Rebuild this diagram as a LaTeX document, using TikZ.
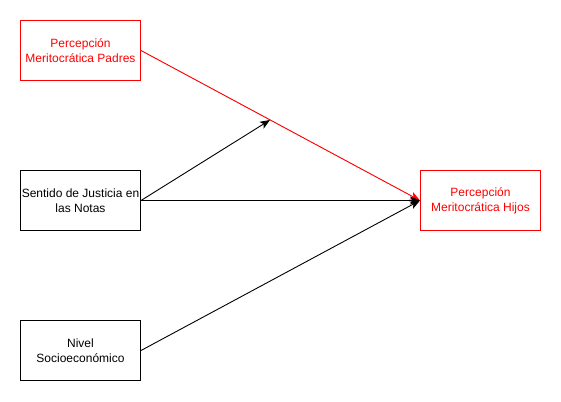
\documentclass[tikz,border=0pt]{standalone}
\usepackage{fontspec}
\setmainfont{Liberation Sans}
\usetikzlibrary{arrows.meta}
\definecolor{dred}{HTML}{FF0000}
\begin{document}
\begin{tikzpicture}[x=1pt,y=-1pt,
  box/.style={draw,line width=1pt,minimum width=120pt,minimum height=60pt,inner sep=0pt,align=center,font=\fontsize{12}{15}\selectfont,anchor=north west},
  redbox/.style={box,draw=dred,text=dred},
  arr/.style={line width=0.9pt,-{Stealth[length=10pt,width=8pt,inset=2.5pt]}}]
\useasboundingbox (0,0) rectangle (561,401);
\node[redbox] (padres) at (20,20) {Percepción\\Meritocrática Padres};
\node[box] (justicia) at (20,170) {Sentido de Justicia en\\las Notas};
\node[box] (nivel) at (20,320) {Nivel\\Socioeconómico};
\node[redbox] (hijos) at (420,170) {Percepción\\Meritocrática Hijos};
\coordinate (mod) at (270,120);
\draw[arr,draw=dred,fill=dred] (padres.east) -- (hijos.west);
\draw[arr] (justicia.east) -- (mod);
\draw[arr] (justicia.east) -- (hijos.west);
\draw[arr] (nivel.east) -- (hijos.west);
\end{tikzpicture}
\end{document}
